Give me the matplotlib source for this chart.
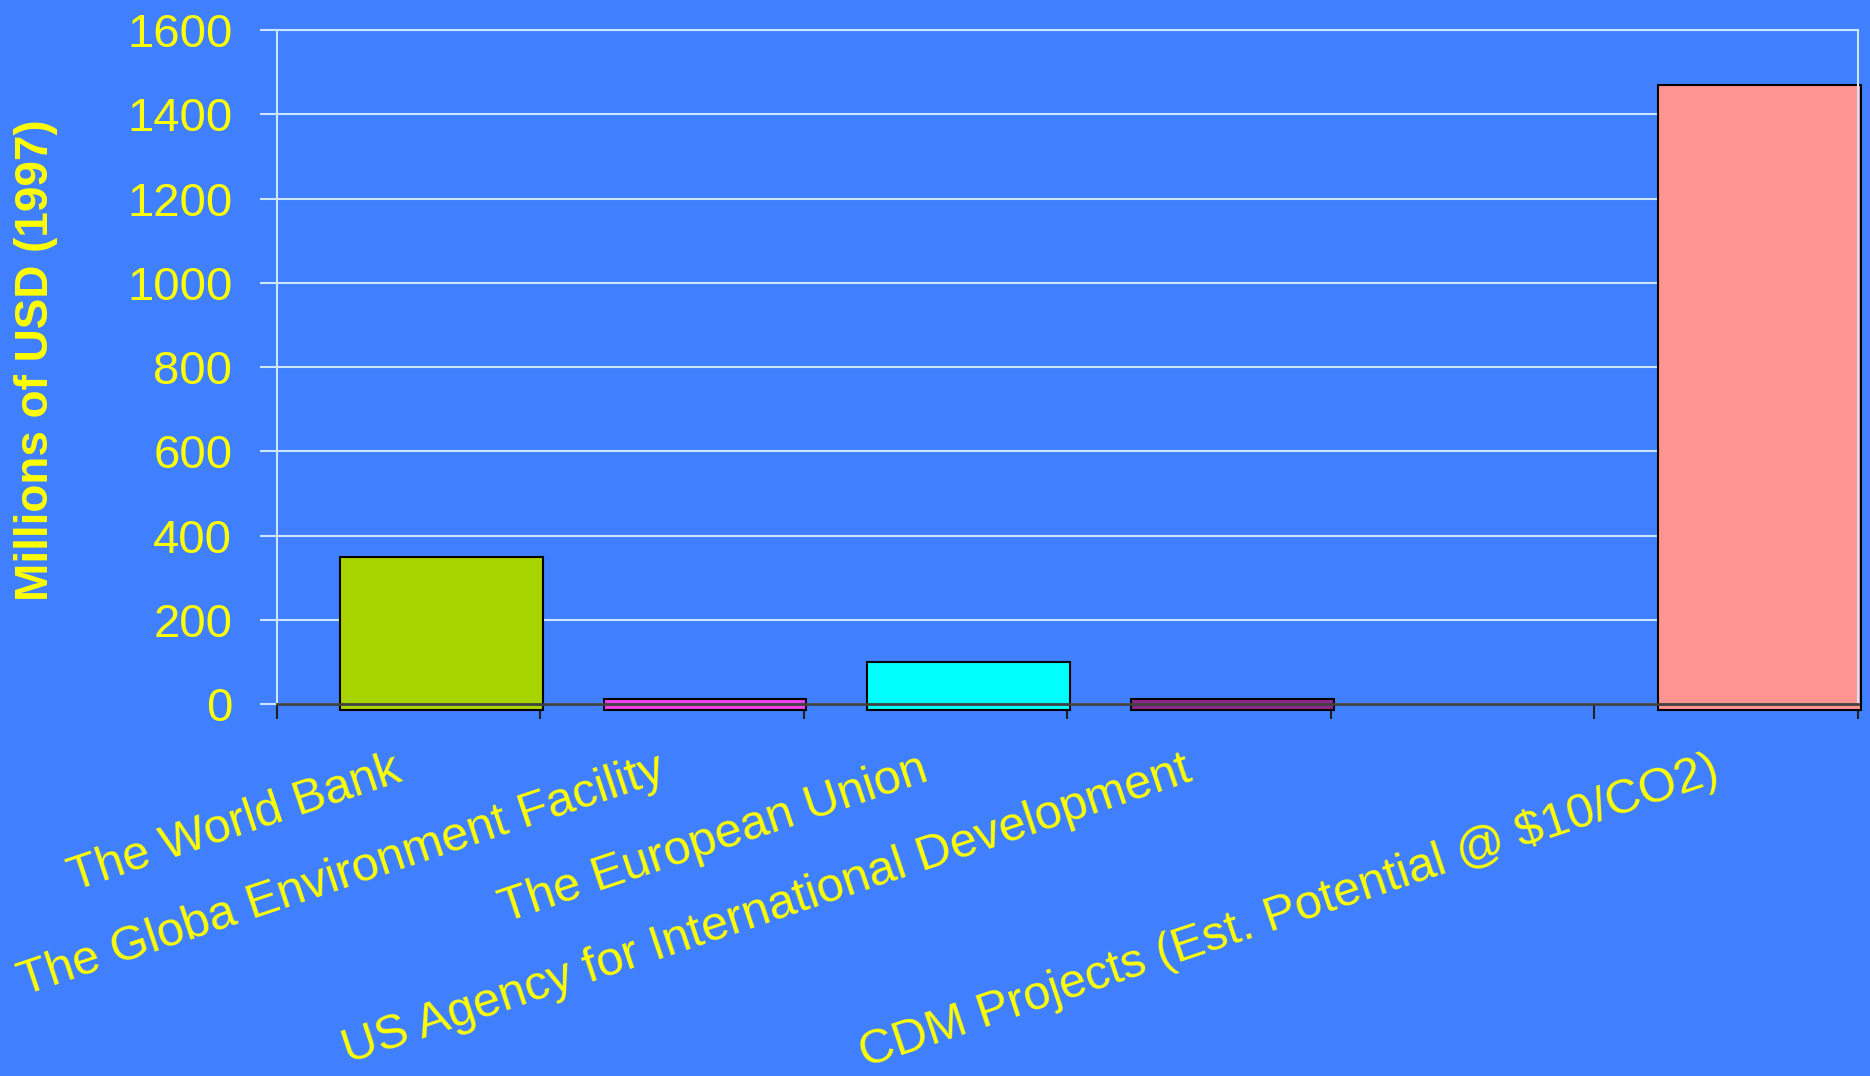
import numpy as np
import matplotlib
matplotlib.use("Agg")
import matplotlib.pyplot as plt
import matplotlib.transforms as mtransforms

# categories (5th slot is empty in the original)
categories = [
    "The World Bank",
    "The Globa Environment Facility",
    "The European Union",
    "US Agency for International Development",
    "",
    "CDM Projects (Est. Potential @ $10/CO2)",
]
values = [350, 13, 100, 13, np.nan, 1470]
bar_colors = ["#A8D400", "#F040F0", "#00FFFF", "#8C288C", "#4080FF", "#FF9490"]
y_ticks = [0, 200, 400, 600, 800, 1000, 1200, 1400, 1600]

BG = "#4080FF"
YELLOW = "#FFFF00"
LIGHT = "#CDE6FF"

plt.rcParams["font.family"] = ["Liberation Sans", "DejaVu Sans"]

fig = plt.figure(figsize=(18.70, 10.76), dpi=100, facecolor=BG)
ax = fig.add_axes([0.148, 0.3457, 0.9936 - 0.148, 0.972 - 0.3457])
ax.set_facecolor(BG)

x = np.arange(len(categories))
depth = 13  # bars hang slightly below zero like the 3D-ish original
for xi, v, c in zip(x, values, bar_colors):
    if np.isnan(v):
        continue
    ax.bar(xi + 0.125, v + depth, bottom=-depth, width=0.77, color=c,
           edgecolor="black", linewidth=1.5, clip_on=False, zorder=2)

ax.set_xlim(-0.5, len(categories) - 0.5)
ax.set_ylim(0, 1600)

ax.set_yticks(y_ticks)
ax.set_yticklabels([str(t) for t in y_ticks])
ax.tick_params(axis="y", colors=LIGHT, length=12, width=1.5, pad=20,
               labelsize=34, labelcolor=YELLOW)
ax.yaxis.grid(True, color=LIGHT, linewidth=1.5)
ax.set_axisbelow(True)

# boundary ticks (major) and labelled centres (minor)
ax.set_xticks(np.arange(-0.5, len(categories), 1.0))
ax.set_xticklabels([])
ax.tick_params(axis="x", which="major", colors="#202020", length=11, width=1.5)
ax.set_xticks(x, minor=True)
ax.set_xticklabels(categories, minor=True, rotation=18.5, ha="right",
                   va="top", rotation_mode="anchor")
ax.tick_params(axis="x", which="minor", length=0, pad=31, labelsize=35,
               labelcolor=YELLOW)
shift = mtransforms.ScaledTranslation(-0.16, 0, fig.dpi_scale_trans)
for lbl in ax.get_xticklabels(minor=True):
    lbl.set_transform(lbl.get_transform() + shift)

for side in ["top", "right", "left"]:
    ax.spines[side].set_color(LIGHT)
    ax.spines[side].set_linewidth(1.5)
ax.spines["bottom"].set_color("#404040")
ax.spines["bottom"].set_linewidth(2)
ax.spines["bottom"].set_zorder(3)

fig.text(0.019, 0.665, "Millions of USD (1997)", rotation=90, color=YELLOW,
         fontsize=33, fontweight="bold", ha="center", va="center")

fig.savefig("out.png", dpi=100, facecolor=BG)
